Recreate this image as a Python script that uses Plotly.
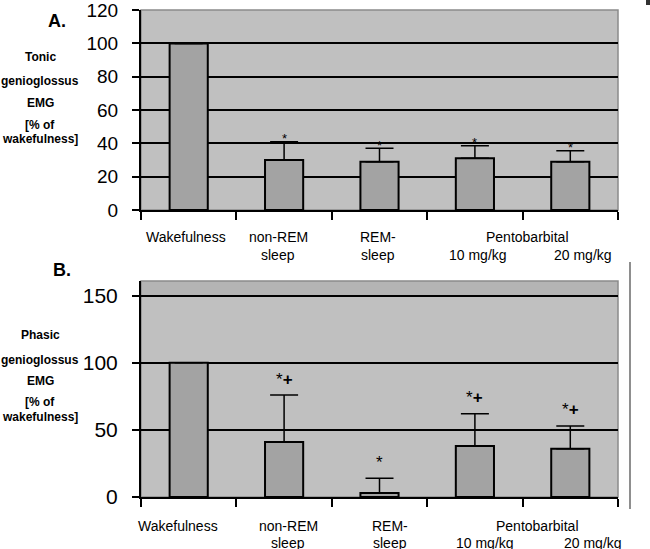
import plotly.graph_objects as go

W, H = 650, 549

categories = ["Wakefulness", "non-REM sleep", "REM-sleep", "Pento 10 mg/kg", "Pento 20 mg/kg"]

# panel A: tonic genioglossus EMG
tonic_mean = [100, 30, 29, 31, 29]
tonic_err = [0, 11, 8, 7.5, 6.5]
tonic_marks = ["", "*", "*", "*", "*"]

# panel B: phasic genioglossus EMG
phasic_mean = [100, 41, 3, 38, 36]
phasic_err = [0, 35, 11, 24, 17]
phasic_marks = ["", "*<b>+</b>", "*", "*<b>+</b>", "*<b>+</b>"]

tonic_ticks = [0, 20, 40, 60, 80, 100, 120]
phasic_ticks = [0, 50, 100, 150]

BG = "#c0c0c0"
BAR = "#a3a3a3"
FONT = "Liberation Sans, Arial, sans-serif"


def px(x):
    return x / W


def py(y):
    return 1 - y / H


fig = go.Figure()

fig.add_trace(go.Bar(x=categories, y=tonic_mean, width=0.4,
                     marker=dict(color=BAR, line=dict(color="black", width=2)),
                     error_y=dict(type="data", array=tonic_err, arrayminus=[0] * 5, symmetric=False,
                                  color="black", thickness=1.5, width=14),
                     xaxis="x", yaxis="y", showlegend=False))
fig.add_trace(go.Bar(x=categories, y=phasic_mean, width=0.4,
                     marker=dict(color=BAR, line=dict(color="black", width=2)),
                     error_y=dict(type="data", array=phasic_err, arrayminus=[0] * 5, symmetric=False,
                                  color="black", thickness=1.5, width=14),
                     xaxis="x2", yaxis="y2", showlegend=False))

xdom = [px(141), px(618)]
xcommon = dict(type="category", showline=True, linecolor="black", linewidth=2,
               ticks="outside", tickson="boundaries", ticklen=8, tickwidth=2, tickcolor="black",
               showticklabels=False, showgrid=False, zeroline=False, domain=xdom, automargin=False)
ycommon = dict(showline=True, linecolor="black", linewidth=2, ticks="outside", ticklen=7,
               tickwidth=2, tickcolor="black", showgrid=False, zeroline=False,
               ticklabelstandoff=10, automargin=False, ticklabeloverflow="allow")

fig.update_layout(
    template="none",
    width=W, height=H,
    autosize=False,
    margin=dict(l=0, r=0, t=0, b=0, pad=0),
    paper_bgcolor="white",
    plot_bgcolor=BG,
    font=dict(family=FONT, color="black"),
    xaxis=dict(xcommon, anchor="y"),
    yaxis=dict(ycommon, domain=[py(210), py(10)], range=[0, 120.05], anchor="x",
               tickvals=tonic_ticks, tickfont=dict(size=19, family=FONT),
               minor=dict(tickvals=tonic_ticks[1:-1], showgrid=True, gridcolor="black", gridwidth=2, ticks="")),
    xaxis2=dict(xcommon, anchor="y2"),
    yaxis2=dict(ycommon, domain=[py(497), py(281)], range=[0, 161], anchor="x2",
                tickvals=phasic_ticks, tickfont=dict(size=21, family=FONT),
                minor=dict(tickvals=phasic_ticks[1:], showgrid=True, gridcolor="black", gridwidth=2, ticks="")),
)

# gray border on the plot areas, darker band at top of panel B
fig.add_shape(type="rect", xref="x domain", yref="y domain", x0=0, x1=1, y0=0, y1=1,
              line=dict(color="#8a8a8a", width=1.5), layer="below")
fig.add_shape(type="rect", xref="x2 domain", yref="y2", x0=0, x1=1, y0=150, y1=161,
              fillcolor="#b4b4b4", line=dict(width=0), layer="below")
fig.add_shape(type="rect", xref="x2 domain", yref="y2 domain", x0=0, x1=1, y0=0, y1=1,
              line=dict(color="#8a8a8a", width=1.5), layer="below")
# stray lines at the right edge of the scan
fig.add_shape(type="line", xref="paper", yref="paper", x0=px(630), x1=px(630), y0=py(262), y1=py(509),
              line=dict(color="#444", width=1.2))
fig.add_shape(type="rect", xref="paper", yref="paper", x0=px(646), x1=px(650), y0=py(5), y1=py(0),
              fillcolor="#333", line=dict(width=0))

ann = []
# significance marks
for c, m, e, t in zip(categories, tonic_mean, tonic_err, tonic_marks):
    if t:
        ann.append(dict(x=c, y=m + e, xref="x", yref="y", text=t, showarrow=False,
                        xanchor="center", yanchor="middle", yshift=3, font=dict(size=13)))
for c, m, e, t in zip(categories, phasic_mean, phasic_err, phasic_marks):
    if t:
        ann.append(dict(x=c, y=m + e, xref="x2", yref="y2", text=t, showarrow=False,
                        xanchor="center", yanchor="middle", yshift=16, font=dict(size=17)))

# panel letters
ann.append(dict(x=px(57), y=py(21), text="<b>A.</b>", font=dict(size=18)))
ann.append(dict(x=px(62), y=py(270), text="<b>B.</b>", font=dict(size=18)))

# y axis titles
for txt, yy in [("Tonic", 57), ("genioglossus", 81), ("EMG", 103), ("[% of", 125), ("wakefulness]", 139)]:
    ann.append(dict(x=px(40), y=py(yy), text=f"<b>{txt}</b>", font=dict(size=12)))
for txt, yy in [("Phasic", 335), ("genioglossus", 360), ("EMG", 381), ("[% of", 402), ("wakefulness]", 417)]:
    ann.append(dict(x=px(40), y=py(yy), text=f"<b>{txt}</b>", font=dict(size=12)))

# x category labels
labels_a = [("Wakefulness", 186, 237), ("non-REM", 278, 237), ("sleep", 278, 255),
            ("REM-", 378, 237), ("sleep", 378, 255), ("Pentobarbital", 527, 237),
            ("10 mg/kg", 478, 255), ("20 mg/kg", 583, 255)]
labels_b = [("Wakefulness", 178, 526), ("non-REM", 288, 526), ("sleep", 288, 543),
            ("REM-", 390, 526), ("sleep", 390, 543), ("Pentobarbital", 537, 526),
            ("10 mg/kg", 485, 543), ("20 mg/kg", 593, 543)]
for txt, xx, yy in labels_a + labels_b:
    ann.append(dict(x=px(xx), y=py(yy), text=txt, font=dict(size=14)))

for a in ann:
    if "xref" not in a:
        a.update(xref="paper", yref="paper", xanchor="center", yanchor="middle")
    a["showarrow"] = False

fig.update_layout(annotations=ann)

# drop the default 8px body margin so the figure fills the window
fig.write_html("out.html", config={"displayModeBar": False},
               post_script="document.body.style.margin='0px';")
